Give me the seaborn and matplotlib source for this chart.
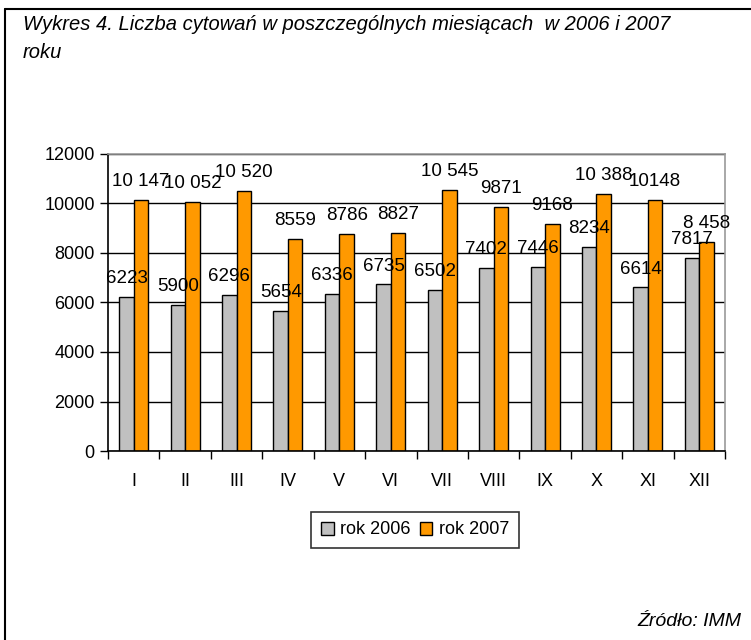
import pandas as pd
import seaborn as sns
import matplotlib.pyplot as plt
from matplotlib.lines import Line2D

# dane z wykresu
months = ['I', 'II', 'III', 'IV', 'V', 'VI', 'VII', 'VIII', 'IX', 'X', 'XI', 'XII']
cit_2006 = [6223, 5900, 6296, 5654, 6336, 6735, 6502, 7402, 7446, 8234, 6614, 7817]
cit_2007 = [10147, 10052, 10520, 8559, 8786, 8827, 10545, 9871, 9168, 10388, 10148, 8458]
labels_2006 = ['6223', '5900', '6296', '5654', '6336', '6735', '6502', '7402', '7446', '8234', '6614', '7817']
labels_2007 = ['10 147', '10 052', '10 520', '8559', '8786', '8827', '10 545', '9871', '9168', '10 388', '10148', '8 458']
series = ['rok 2006', 'rok 2007']
colors = ['#C0C0C0', '#FF9900']

df = pd.DataFrame({
    'month': months * 2,
    'value': cit_2006 + cit_2007,
    'year': [series[0]] * len(months) + [series[1]] * len(months),
    'label': labels_2006 + labels_2007,
})

sns.set_style('white')
plt.rcParams['font.family'] = ['Liberation Sans', 'DejaVu Sans']
plt.rcParams['text.color'] = 'black'
plt.rcParams['xtick.color'] = 'black'
plt.rcParams['ytick.color'] = 'black'

fig = plt.figure(figsize=(7.51, 6.40), dpi=100)
ax = fig.add_axes([0.1438, 0.2953, 0.8216, 0.4641])

sns.barplot(data=df, x='month', y='value', hue='year', order=months,
            palette=colors, edgecolor='black', linewidth=1.0,
            width=0.565, gap=0, saturation=1, ax=ax)

# etykiety nad słupkami
for cont, year in zip(ax.containers, series):
    labs = df.loc[df['year'] == year, 'label'].tolist()
    ax.bar_label(cont, labels=labs, padding=7, fontsize=13.5, color='black')

ax.set_ylim(0, 12000)
ax.set_xlim(-0.5, 11.5)
ax.set_yticks(range(0, 12001, 2000))
ax.yaxis.grid(True, color='black', linewidth=1)
ax.set_axisbelow(True)
ax.set_xlabel('')
ax.set_ylabel('')

ax.set_xticks([i - 0.5 for i in range(13)], minor=False)
ax.set_xticklabels([])
ax.set_xticks(range(12), minor=True)
ax.set_xticklabels(months, minor=True, fontsize=13)
ax.tick_params(axis='x', which='major', length=6, width=1, color='black', direction='out', bottom=True)
ax.tick_params(axis='x', which='minor', length=0, pad=16, labelcolor='black')
ax.tick_params(axis='y', length=6, width=1, color='black', direction='out', left=True,
               labelsize=13, labelcolor='black')

for s in ['left', 'bottom']:
    ax.spines[s].set_color('black')
    ax.spines[s].set_linewidth(1.2)
for s in ['top', 'right']:
    ax.spines[s].set_color('#999999')
    ax.spines[s].set_linewidth(1.2)

leg = ax.legend(loc='center', bbox_to_anchor=(415 / 751, 1 - 530 / 640),
                bbox_transform=fig.transFigure, ncol=2, fontsize=13,
                frameon=True, fancybox=False, edgecolor='black',
                handlelength=0.7, handleheight=0.7, handletextpad=0.35,
                columnspacing=0.5, borderpad=0.55, borderaxespad=0)
leg.get_frame().set_linewidth(1.2)
for t in leg.get_texts():
    t.set_color('black')

fig.text(23 / 751, 1 - 25 / 640, 'Wykres 4. Liczba cytowań w poszczególnych miesiącach  w 2006 i 2007',
         ha='left', va='center', fontsize=14.5, style='italic')
fig.text(23 / 751, 1 - 52 / 640, 'roku',
         ha='left', va='center', fontsize=14.5, style='italic')
fig.text(741 / 751, 1 - 621 / 640, 'Źródło: IMM', ha='right', va='center',
         fontsize=14, style='italic')

# ramka
fig.add_artist(Line2D([5 / 751, 5 / 751], [0, 1 - 9 / 640], color='black', linewidth=1.5))
fig.add_artist(Line2D([5 / 751, 1], [1 - 9 / 640, 1 - 9 / 640], color='black', linewidth=1.5))

fig.savefig('out.png', dpi=100)
